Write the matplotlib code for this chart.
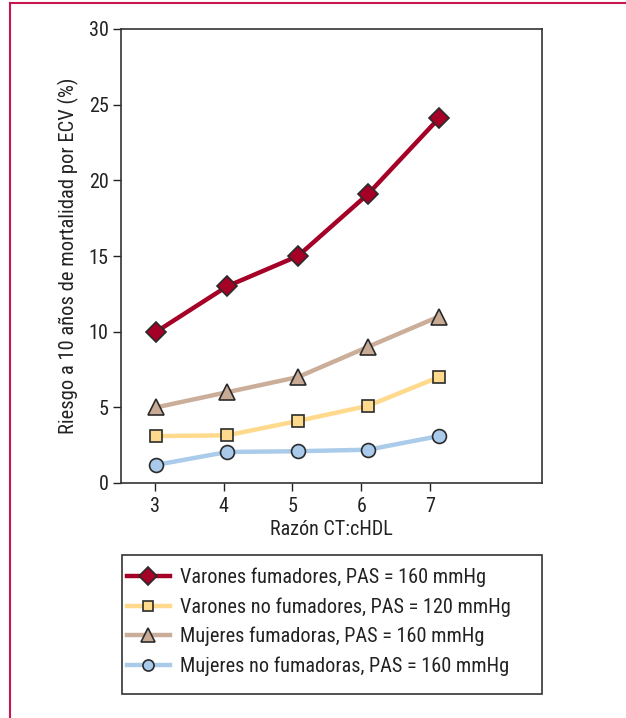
import matplotlib
matplotlib.use("Agg")
import matplotlib.pyplot as plt
from matplotlib import font_manager
from matplotlib.lines import Line2D
from matplotlib.patches import Rectangle

x_ticks = [3, 4, 5, 6, 7]
x_pos = [3.02, 4.05, 5.08, 6.1, 7.13]
varones_fum = [10, 13, 15, 19.1, 24.1]
varones_nofum = [3.1, 3.15, 4.1, 5.1, 7.0]
mujeres_fum = [5, 6, 7, 9, 11]
mujeres_nofum = [1.2, 2.05, 2.1, 2.2, 3.1]
labels = ["Varones fumadores, PAS = 160 mmHg",
          "Varones no fumadores, PAS = 120 mmHg",
          "Mujeres fumadoras, PAS = 160 mmHg",
          "Mujeres no fumadoras, PAS = 160 mmHg"]
y_ticks = [0, 5, 10, 15, 20, 25, 30]

# pick a condensed sans font if one is installed
cands = []
for f in font_manager.fontManager.ttflist:
    st = str(f.stretch).lower()
    n = f.name.lower()
    if ('condensed' in st or 'narrow' in n or 'condensed' in n or
            (isinstance(f.stretch, int) and f.stretch < 500)) and f.style == 'normal':
        if 'mono' in n or 'serif' in n and 'sans' not in n:
            continue
        cands.append(f)
pref = ['roboto', 'liberation', 'open sans', 'noto sans', 'dejavu sans']
fp = None
for p in pref:
    for f in cands:
        if f.name.lower().startswith(p) and f.weight in (400, 'normal', 'regular'):
            fp = f
            break
    if fp:
        break
if fp is None and cands:
    fp = cands[0]

if fp is not None:
    FONT = font_manager.FontProperties(fname=fp.fname)
else:
    FONT = font_manager.FontProperties(family='Liberation Sans')


def F(size):
    p = FONT.copy()
    p.set_size(size)
    return p


W, H = 626, 718
fig = plt.figure(figsize=(W / 100, H / 100), dpi=100)
ax = fig.add_axes([121/W, 1-483/H, (542-121)/W, (483-29)/H])

edge = "#2b2b2b"
series = [
    (varones_fum, "#A50026", "#A50026", "D", 10),
    (varones_nofum, "#FFD98C", "#FFD98C", "s", 9),
    (mujeres_fum, "#CBAE9A", "#C9AB95", "^", 11),
    (mujeres_nofum, "#ABCBEA", "#A9CAEA", "o", 10),
]
order = [3, 1, 2, 0]
for i in order:
    ys, lc, fc, m, ms = series[i]
    ax.plot(x_pos, ys, color=lc, lw=3.2, marker=m, ms=ms, mfc=fc, mec=edge,
            mew=1.2, zorder=3 + (3 - i))

ax.set_xlim(2.505, 8.63)
ax.set_ylim(0, 30)
ax.set_xticks(x_ticks)
ax.set_yticks(y_ticks)
ax.tick_params(direction='out', length=6, width=1, colors='#222222', pad=3)
ax.tick_params(axis='x', pad=4)
for lab in ax.get_xticklabels() + ax.get_yticklabels():
    lab.set_fontproperties(F(14.5))
for s in ax.spines.values():
    s.set_color('#333333')
    s.set_linewidth(1.2)
ax.set_xlabel("Razón CT:cHDL", fontproperties=F(14.5), color='#222222', labelpad=3)
ax.set_ylabel("Riesgo a 10 años de mortalidad por ECV (%)", fontproperties=F(14.8),
              color='#222222', labelpad=7)

leg_ms = [9.5, 7, 10, 8]
handles = []
for i in range(4):
    ys, lc, fc, m, ms = series[i]
    handles.append(Line2D([], [], color=lc, lw=3.2, marker=m, ms=leg_ms[i],
                          mfc=fc, mec=edge, mew=1.2))

# legend frame
fig.add_artist(Rectangle((122/W, 1-694/H), (542-122)/W, (694-555)/H,
                         transform=fig.transFigure, fill=False,
                         edgecolor='#333333', lw=1.2))
leg = fig.legend(handles, labels, loc='upper left',
                 bbox_to_anchor=(127/W, 1-567.5/H),
                 prop=F(14.6), frameon=False,
                 handlelength=2.1, handletextpad=0.5, labelspacing=0.5,
                 borderpad=0, borderaxespad=0)
for t in leg.get_texts():
    t.set_color('#222222')

# page frame (left and top red rule)
fig.add_artist(Line2D([10/W, 10/W], [0, 1-3/H], transform=fig.transFigure,
                      color='#C8174E', lw=1.5))
fig.add_artist(Line2D([10/W, 1], [1-3/H, 1-3/H], transform=fig.transFigure,
                      color='#C8174E', lw=1.5))

fig.savefig("out.png", dpi=100)
